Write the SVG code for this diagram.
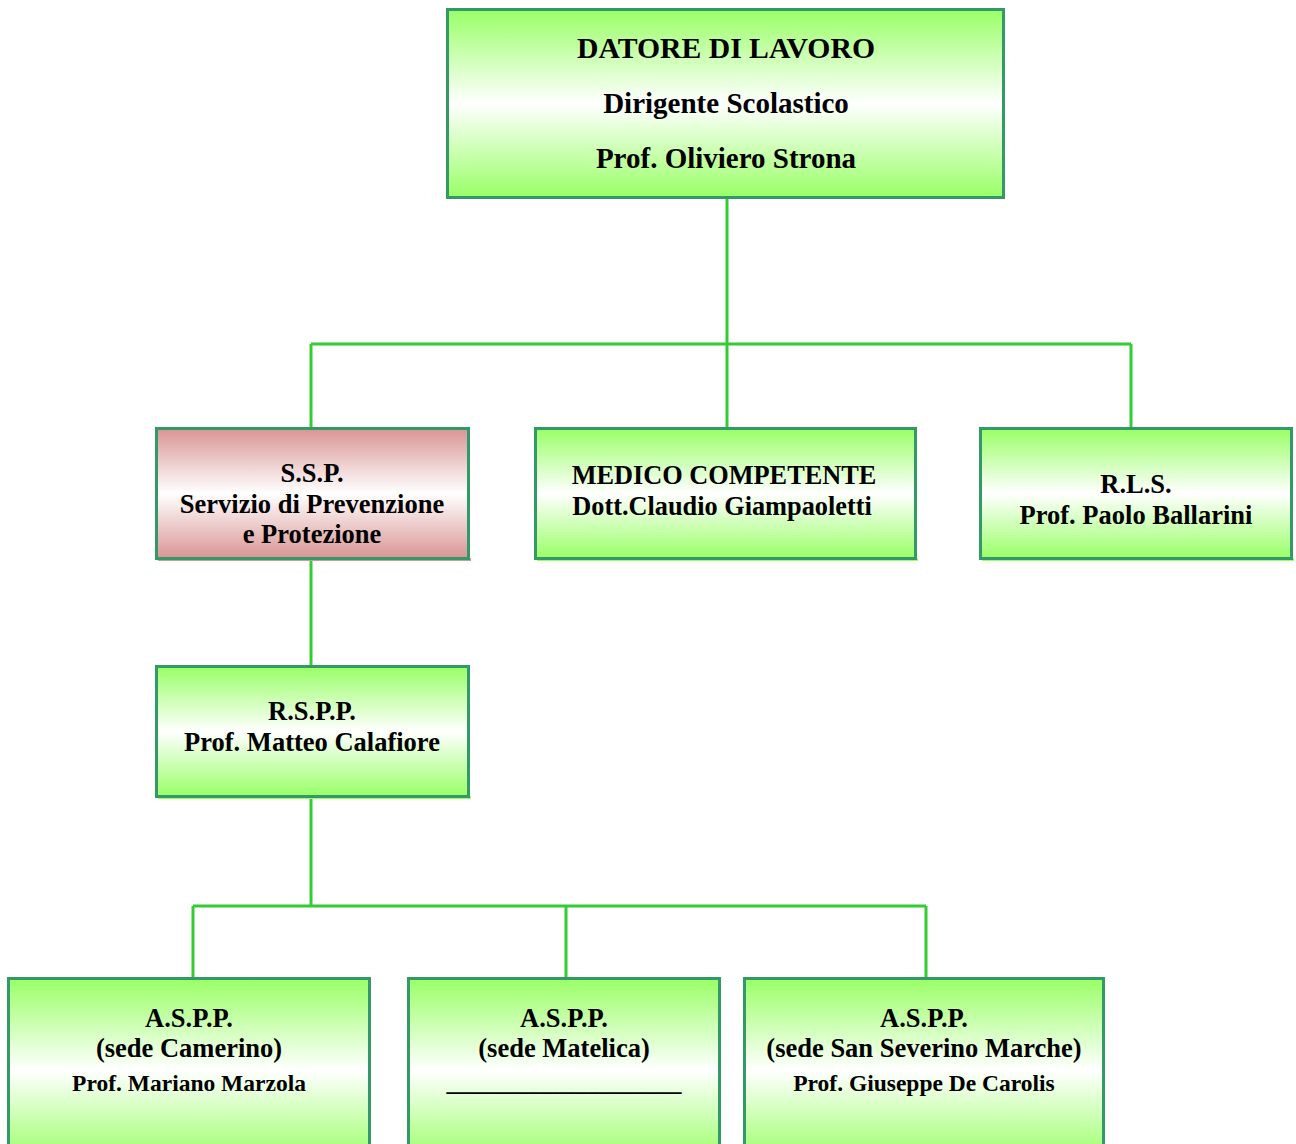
<svg xmlns="http://www.w3.org/2000/svg" width="1296" height="1144" viewBox="0 0 1296 1144">
<defs>
<linearGradient id="gG" x1="0" y1="0" x2="0" y2="1">
<stop offset="0" stop-color="#99ff66"/>
<stop offset="0.5" stop-color="#ffffff"/>
<stop offset="1" stop-color="#99ff66"/>
</linearGradient>
<linearGradient id="gP" x1="0" y1="0" x2="0" y2="1">
<stop offset="0" stop-color="#d99594"/>
<stop offset="0.5" stop-color="#ffffff"/>
<stop offset="1" stop-color="#d99594"/>
</linearGradient>
<style>
.box{fill:url(#gG);stroke:#339966;stroke-width:3}
.pbox{fill:url(#gP);stroke:#339966;stroke-width:3}
.sh{fill:#99ff66}
.shp{fill:#d99594}
.t{font-family:"Liberation Serif","Times New Roman",serif;font-weight:bold;fill:#000;text-anchor:middle}
.conn{stroke:#33cc33;stroke-width:3;fill:none}
</style>
</defs>
<g id="connectors">
<path class="conn" d="M727 198V344M311 344H1131M311 344V428M727 344V428M1131 344V428"/>
<path class="conn" d="M311 559V666"/>
<path class="conn" d="M311 797V906M193 906H926M193 906V978M566 906V978M926 906V978"/>
</g>
<g id="datore">
<rect class="box" x="447.5" y="9.5" width="556" height="188"/>
<text class="t" x="726" y="58" font-size="29.7">DATORE DI LAVORO</text>
<text class="t" x="726" y="113" font-size="29">Dirigente Scolastico</text>
<text class="t" x="726" y="168" font-size="29">Prof. Oliviero Strona</text>
</g>
<g id="ssp">
<rect class="shp" x="158" y="558" width="313" height="3"/>
<rect class="pbox" x="156.5" y="428.5" width="312" height="130"/>
<text class="t" x="312" y="482" font-size="26.5">S.S.P.</text>
<text class="t" x="312" y="513" font-size="26.5">Servizio di Prevenzione</text>
<text class="t" x="312" y="543" font-size="26.5">e Protezione</text>
</g>
<g id="medico">
<rect class="sh" x="537" y="558" width="381" height="3"/>
<rect class="box" x="535.5" y="428.5" width="380" height="130"/>
<text class="t" x="724" y="484" font-size="26.3">MEDICO COMPETENTE</text>
<text class="t" x="722" y="515" font-size="26.3">Dott.Claudio Giampaoletti</text>
</g>
<g id="rls">
<rect class="sh" x="982" y="558" width="312" height="3"/>
<rect class="box" x="980.5" y="428.5" width="311" height="130"/>
<text class="t" x="1136" y="493" font-size="26.5">R.L.S.</text>
<text class="t" x="1136" y="524" font-size="26.5">Prof. Paolo Ballarini</text>
</g>
<g id="rspp">
<rect class="sh" x="158" y="796" width="313" height="3"/>
<rect class="box" x="156.5" y="666.5" width="312" height="130"/>
<text class="t" x="312" y="720" font-size="26.5">R.S.P.P.</text>
<text class="t" x="312" y="751" font-size="26.5">Prof. Matteo Calafiore</text>
</g>
<g id="aspp1">
<rect class="box" x="8.5" y="978.5" width="361" height="184"/>
<text class="t" x="189" y="1027" font-size="26.5">A.S.P.P.</text>
<text class="t" x="189" y="1057" font-size="26.5">(sede Camerino)</text>
<text class="t" x="189" y="1091" font-size="23.5">Prof. Mariano Marzola</text>
</g>
<g id="aspp2">
<rect class="box" x="408.5" y="978.5" width="311" height="184"/>
<text class="t" x="564" y="1027" font-size="26.5">A.S.P.P.</text>
<text class="t" x="564" y="1057" font-size="26.5">(sede Matelica)</text>
<text class="t" x="564" y="1091" font-size="23.5">____________________</text>
</g>
<g id="aspp3">
<rect class="box" x="744.5" y="978.5" width="359" height="184"/>
<text class="t" x="924" y="1027" font-size="26.5">A.S.P.P.</text>
<text class="t" x="924" y="1057" font-size="26.5">(sede San Severino Marche)</text>
<text class="t" x="924" y="1091" font-size="23.5">Prof. Giuseppe De Carolis</text>
</g>
</svg>
